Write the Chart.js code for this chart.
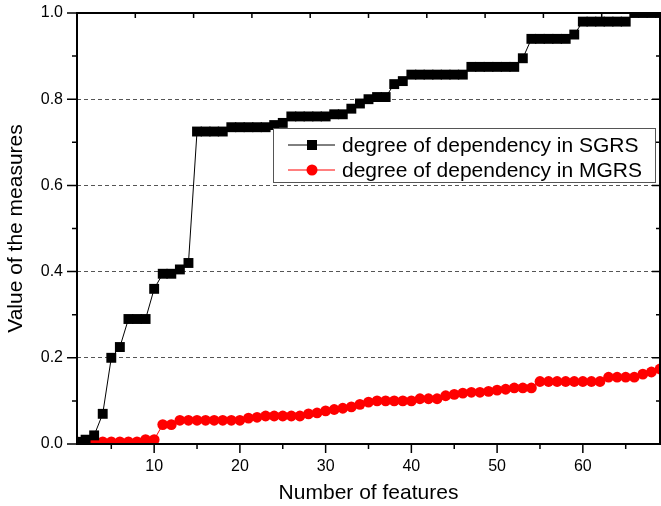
<!DOCTYPE html>
<html>
<head>
<meta charset="utf-8">
<script src="https://cdn.jsdelivr.net/npm/chart.js@4"></script>
<style>
  html, body { margin: 0; padding: 0; background: #fff; }
  #wrap { width: 661px; height: 506px; }
</style>
</head>
<body>
<div id="wrap"><canvas id="measures-chart" width="661" height="506"></canvas></div>
<script>
// number of features 1..69
const features = [
  1, 2, 3, 4, 5, 6, 7, 8, 9, 10, 11, 12, 13, 14, 15, 16, 17, 18, 19, 20,
  21, 22, 23, 24, 25, 26, 27, 28, 29, 30, 31, 32, 33, 34, 35, 36, 37, 38, 39, 40,
  41, 42, 43, 44, 45, 46, 47, 48, 49, 50, 51, 52, 53, 54, 55, 56, 57, 58, 59, 60,
  61, 62, 63, 64, 65, 66, 67, 68, 69
];

const sgrs = [
  0.005, 0.01, 0.02, 0.07, 0.20, 0.225, 0.29, 0.29, 0.29, 0.36,
  0.395, 0.395, 0.405, 0.42, 0.725, 0.725, 0.725, 0.725, 0.735, 0.735,
  0.735, 0.735, 0.735, 0.74, 0.745, 0.76, 0.76, 0.76, 0.76, 0.76,
  0.765, 0.765, 0.778, 0.79, 0.80, 0.805, 0.805, 0.835, 0.842, 0.857,
  0.857, 0.857, 0.857, 0.857, 0.857, 0.857, 0.875, 0.875, 0.875, 0.875,
  0.875, 0.875, 0.895, 0.94, 0.94, 0.94, 0.94, 0.94, 0.95, 0.98,
  0.98, 0.98, 0.98, 0.98, 0.98, 1.0, 1.0, 1.0, 1.0
];

const mgrs = [
  0.005, 0.005, 0.005, 0.005, 0.005, 0.005, 0.005, 0.005, 0.01, 0.01,
  0.045, 0.045, 0.055, 0.055, 0.055, 0.055, 0.055, 0.055, 0.055, 0.055,
  0.06, 0.062, 0.065, 0.065, 0.065, 0.065, 0.065, 0.07, 0.072, 0.077,
  0.08, 0.083, 0.086, 0.092, 0.097, 0.10, 0.10, 0.10, 0.10, 0.10,
  0.105, 0.105, 0.105, 0.112, 0.115, 0.118, 0.12, 0.12, 0.122, 0.125,
  0.127, 0.13, 0.13, 0.13, 0.145, 0.145, 0.145, 0.145, 0.145, 0.145,
  0.145, 0.145, 0.155, 0.155, 0.155, 0.155, 0.162, 0.167, 0.174
];

const seriesNames = ['degree of dependency in SGRS', 'degree of dependency in MGRS'];
const xTicks = [5, 10, 15, 20, 25, 30, 35, 40, 45, 50, 55, 60, 65];
const yTicks = [0, 0.1, 0.2, 0.3, 0.4, 0.5, 0.6, 0.7, 0.8, 0.9, 1.0];

const FONT = '"Liberation Sans", Arial, sans-serif';

function toPoints(ys) {
  var pts = [];
  for (var i = 0; i < features.length; i++) pts.push({x: features[i], y: ys[i]});
  return pts;
}

function isMajorY(v) { return Math.round(v * 10) % 2 === 0; }

function noPadding(s) {
  s.paddingLeft = 0; s.paddingRight = 0; s.paddingTop = 0; s.paddingBottom = 0;
}

// box around the plot, tick marks on all four sides, legend inside the plot
const framePlugin = {
  id: 'frame',
  afterDatasetsDraw(chart) {
    const c = chart.ctx;
    const a = chart.chartArea;
    const xs = chart.scales.x, ys = chart.scales.y;
    c.save();
    c.strokeStyle = '#000';
    c.lineWidth = 2;
    c.strokeRect(a.left, a.top, a.right - a.left, a.bottom - a.top);

    c.lineWidth = 1.5;
    c.beginPath();
    // bottom (outward) and left (outward)
    for (const v of xTicks) {
      const px = xs.getPixelForValue(v);
      c.moveTo(px, a.bottom);
      c.lineTo(px, a.bottom + (v % 10 === 0 ? 9 : 5));
    }
    for (const v of yTicks) {
      const py = ys.getPixelForValue(v);
      c.moveTo(a.left, py);
      c.lineTo(a.left - (isMajorY(v) ? 10 : 5), py);
      c.moveTo(a.right, py);
      c.lineTo(a.right - (isMajorY(v) ? 8 : 4), py);
    }
    // top axis: ten equal divisions, inward
    for (let i = 1; i < 10; i++) {
      const px = a.left + (a.right - a.left) * i / 10;
      c.moveTo(px, a.top);
      c.lineTo(px, a.top + 5);
    }
    c.stroke();

    // legend
    const lx = 273, ly = 128, lw = 382, lh = 54;
    c.fillStyle = '#fff';
    c.fillRect(lx, ly, lw, lh);
    c.strokeStyle = '#555';
    c.lineWidth = 1;
    c.strokeRect(lx + 0.5, ly + 0.5, lw, lh);
    const rows = [145, 170];
    chart.data.datasets.forEach(function(ds, i) {
      const y = rows[i];
      c.strokeStyle = ds.borderColor;
      c.lineWidth = 1;
      c.beginPath();
      c.moveTo(288, y);
      c.lineTo(335, y);
      c.stroke();
      c.fillStyle = ds.pointBackgroundColor;
      if (ds.pointStyle === 'rect') {
        c.fillRect(312 - 5, y - 5, 10, 10);
      } else {
        c.beginPath();
        c.arc(312, y, 5.5, 0, Math.PI * 2);
        c.fill();
      }
      c.fillStyle = '#000';
      c.font = '21px ' + FONT;
      c.textBaseline = 'middle';
      c.textAlign = 'left';
      c.fillText(ds.label, 342, y + 1);
    });
    c.restore();
  }
};

const ctx = document.getElementById('measures-chart');

const data = {
  datasets: [
    {
      label: seriesNames[0],
      data: toPoints(sgrs),
      borderColor: '#000',
      backgroundColor: '#000',
      pointBackgroundColor: '#000',
      pointBorderColor: '#000',
      borderWidth: 1,
      pointStyle: 'rect',
      pointRadius: 7,
      pointBorderWidth: 0,
      tension: 0,
      clip: 0
    },
    {
      label: seriesNames[1],
      data: toPoints(mgrs),
      borderColor: '#ff0000',
      backgroundColor: '#ff0000',
      pointBackgroundColor: '#ff0000',
      pointBorderColor: '#ff0000',
      borderWidth: 1,
      pointStyle: 'circle',
      pointRadius: 5.4,
      pointBorderWidth: 0,
      tension: 0,
      clip: 0
    }
  ]
};

const config = {
  type: 'line',
  data: data,
  plugins: [framePlugin],
  options: {
    responsive: false,
    animation: false,
    devicePixelRatio: 1,
    layout: { autoPadding: false, padding: { top: 13, right: 1, left: 0, bottom: 0 } },
    plugins: {
      legend: { display: false },
      tooltip: { enabled: false }
    },
    scales: {
      x: {
        type: 'linear',
        min: 1,
        max: 69,
        afterFit: (s) => { s.height = 62; noPadding(s); },
        afterBuildTicks: (s) => { s.ticks = xTicks.map(v => ({value: v})); },
        grid: { drawOnChartArea: false, drawTicks: false },
        border: { display: false },
        ticks: {
          autoSkip: false,
          maxRotation: 0,
          padding: 13,
          color: '#000',
          font: { family: FONT, size: 16 },
          callback: (v) => (v % 10 === 0 ? String(v) : '')
        },
        title: {
          display: true,
          text: 'Number of features',
          color: '#000',
          font: { family: FONT, size: 21 },
          padding: { top: 0, bottom: 0 }
        }
      },
      y: {
        type: 'linear',
        min: 0,
        max: 1,
        afterFit: (s) => { s.width = 77; noPadding(s); },
        afterBuildTicks: (s) => { s.ticks = yTicks.map(v => ({value: v})); },
        grid: {
          drawTicks: false,
          lineWidth: 1,
          color: (c) => {
            const v = Math.round(c.tick.value * 10);
            return (v > 0 && v < 10 && v % 2 === 0) ? '#555' : 'rgba(0,0,0,0)';
          }
        },
        border: { display: false, dash: [4, 3] },
        ticks: {
          autoSkip: false,
          padding: 14,
          color: '#000',
          font: { family: FONT, size: 16 },
          callback: (v) => (isMajorY(v) ? v.toFixed(1) : '')
        },
        title: {
          display: true,
          text: 'Value of the measures',
          color: '#000',
          font: { family: FONT, size: 21 },
          padding: { top: 4, bottom: 0 }
        }
      }
    }
  }
};

new Chart(ctx, config);
</script>
</body>
</html>
